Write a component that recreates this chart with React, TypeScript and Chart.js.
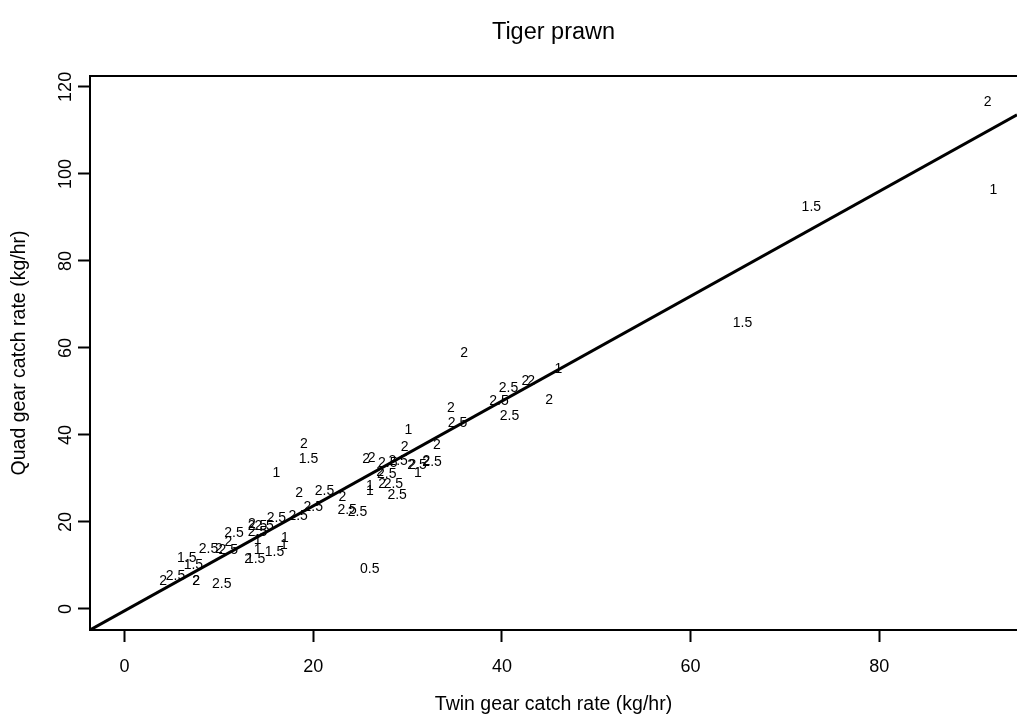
import React, { useEffect, useRef } from "react";
import { Chart, registerables } from "chart.js";

Chart.register(...registerables);

// Depth-stratum labels drawn at each (twin, quad) catch-rate pair
const pointLabels = [
  "2", "1", "1.5", "1.5",
  "1", "2", "2", "2.5", "2", "2.5", "2.5", "2", "2", "2.5",
  "1", "2", "2", "2", "1.5", "1",
  "2", "2", "2.5", "2.5", "2", "2.5", "2", "2.5", "1", "2", "2.5",
  "1", "1", "2", "2.5", "2.5", "2", "2.5", "2.5", "2", "2.5", "2.5", "2.5", "2.5",
  "2", "2.5", "2.5", "2.5", "2.5", "2", "2.5", "2", "2.5",
  "1", "1", "1", "1.5", "1", "2", "1.5",
  "1.5", "1.5", "2.5", "2", "2", "2", "2.5", "0.5",
];
const twinRates = [
  91.5, 92.1, 72.8, 65.5,
  46.0, 42.5, 43.1, 40.7, 45.0, 39.7, 40.8, 36.0, 34.6, 35.3,
  30.1, 29.7, 33.1, 19.0, 19.5, 16.1,
  25.6, 26.2, 27.9, 29.0, 30.5, 31.0, 32.0, 32.6, 31.1, 27.1, 27.8,
  26.0, 26.0, 27.3, 28.5, 28.9, 23.1, 23.6, 24.7, 18.5, 21.2, 20.0, 18.4, 16.1,
  13.5, 14.1, 14.8, 14.1, 11.6, 11.0, 8.9, 10.0, 11.0,
  14.1, 17.0, 16.9, 15.9, 14.1, 13.1, 13.9,
  6.6, 7.3, 5.4, 4.1, 7.6, 7.6, 10.3, 26.0,
];
const quadRates = [
  116.6, 96.3, 92.4, 65.7,
  55.2, 52.4, 52.4, 50.8, 48.0, 47.8, 44.4, 58.9, 46.2, 42.8,
  41.1, 37.2, 37.7, 37.9, 34.5, 31.3,
  34.5, 34.7, 33.6, 34.0, 33.1, 33.1, 34.0, 33.8, 31.3, 31.5, 31.0,
  28.3, 27.1, 28.7, 28.7, 26.2, 25.7, 22.8, 22.3, 26.7, 27.1, 23.4, 21.4, 20.9,
  19.5, 19.1, 19.1, 17.7, 17.5, 15.4, 13.8, 13.8, 13.6,
  15.9, 16.3, 14.7, 13.1, 13.6, 11.5, 11.5,
  11.7, 10.1, 7.6, 6.4, 6.4, 6.4, 5.7, 9.2,
];

const xTickValues = [0, 20, 40, 60, 80];
const yTickValues = [0, 20, 40, 60, 80, 100, 120];
const xRange = [-3.66, 94.6];
const yRange = [-4.83, 122.5];
const fitIntercept = -0.42;
const fitSlope = 1.205;

const FONT = "'Liberation Sans', Arial, Helvetica, sans-serif";

export default function App() {
  const canvasRef = useRef<HTMLCanvasElement | null>(null);

  useEffect(() => {
    document.body.style.margin = "0";
    const canvas = canvasRef.current;
    if (!canvas) return;

    const textPlugin = {
      id: "rStyleText",
      beforeDatasetsDraw(chart: any) {
        const ctx = chart.ctx;
        const meta = chart.getDatasetMeta(0);
        ctx.save();
        ctx.fillStyle = "#000";
        ctx.font = `14px ${FONT}`;
        ctx.textAlign = "center";
        ctx.textBaseline = "middle";
        meta.data.forEach((el: any, i: number) => {
          ctx.fillText(pointLabels[i], el.x, el.y);
        });
        ctx.restore();
      },
      afterDraw(chart: any) {
        const ctx = chart.ctx;
        const area = chart.chartArea;
        const xs = chart.scales.x;
        const ys = chart.scales.y;
        ctx.save();
        // top frame line
        ctx.strokeStyle = "#000";
        ctx.lineWidth = 2;
        ctx.beginPath();
        ctx.moveTo(area.left - 1, area.top);
        ctx.lineTo(area.right, area.top);
        ctx.stroke();

        ctx.fillStyle = "#000";
        ctx.font = `18px ${FONT}`;
        ctx.textAlign = "center";
        ctx.textBaseline = "middle";
        xTickValues.forEach((v) => {
          ctx.fillText(String(v), xs.getPixelForValue(v), 667);
        });
        yTickValues.forEach((v) => {
          ctx.save();
          ctx.translate(66, ys.getPixelForValue(v));
          ctx.rotate(-Math.PI / 2);
          ctx.fillText(String(v), 0, 0);
          ctx.restore();
        });
        // axis titles
        ctx.font = `19.5px ${FONT}`;
        ctx.fillText("Twin gear catch rate (kg/hr)", (area.left + area.right) / 2, 705);
        ctx.save();
        ctx.translate(20, (area.top + area.bottom) / 2);
        ctx.rotate(-Math.PI / 2);
        ctx.fillText("Quad gear catch rate (kg/hr)", 0, 0);
        ctx.restore();
        // main title
        ctx.font = `23.5px ${FONT}`;
        ctx.fillText("Tiger prawn", (area.left + area.right) / 2, 33);
        ctx.restore();
      },
    };

    const chart = new Chart(canvas, {
      type: "scatter",
      data: {
        datasets: [
          {
            label: "catch",
            data: twinRates.map((x, i) => ({ x, y: quadRates[i] })),
            pointRadius: 0,
            pointHoverRadius: 0,
            showLine: false,
          },
          {
            label: "fit",
            data: xRange.map((x) => ({ x, y: fitIntercept + fitSlope * x })),
            showLine: true,
            borderColor: "#000",
            borderWidth: 3,
            pointRadius: 0,
            fill: false,
          } as any,
        ],
      },
      options: {
        animation: false,
        responsive: false,
        devicePixelRatio: 1,
        events: [],
        layout: { padding: { top: 76, left: 0, right: 0, bottom: 0 } },
        plugins: {
          legend: { display: false },
          title: { display: false },
          tooltip: { enabled: false },
        },
        scales: {
          x: {
            type: "linear",
            min: xRange[0],
            max: xRange[1],
            afterBuildTicks: (s: any) => {
              s.ticks = xTickValues.map((v) => ({ value: v }));
            },
            afterFit: (s: any) => {
              s.height = 88;
            },
            ticks: { display: false },
            grid: {
              display: true,
              drawOnChartArea: false,
              drawTicks: true,
              tickLength: 12,
              tickWidth: 2,
              tickColor: "#000",
            },
            border: { display: true, color: "#000", width: 2 },
          },
          y: {
            type: "linear",
            min: yRange[0],
            max: yRange[1],
            afterBuildTicks: (s: any) => {
              s.ticks = yTickValues.map((v) => ({ value: v }));
            },
            afterFit: (s: any) => {
              s.width = 90;
            },
            ticks: { display: false },
            grid: {
              display: true,
              drawOnChartArea: false,
              drawTicks: true,
              tickLength: 12,
              tickWidth: 2,
              tickColor: "#000",
            },
            border: { display: true, color: "#000", width: 2 },
          },
        },
      },
      plugins: [textPlugin],
    });

    return () => chart.destroy();
  }, []);

  return (
    <canvas
      ref={canvasRef}
      width={1017}
      height={718}
      style={{ display: "block", width: 1017, height: 718 }}
    />
  );
}
